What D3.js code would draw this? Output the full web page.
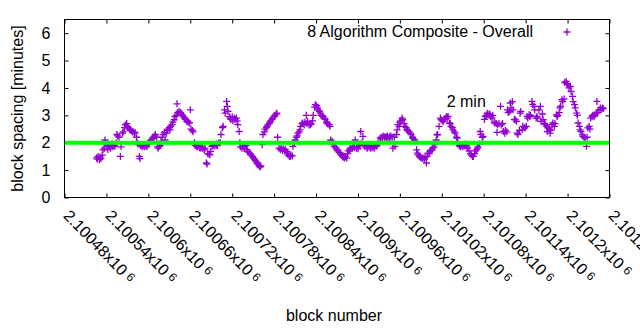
<!DOCTYPE html>
<html><head><meta charset="utf-8">
<script src="https://cdn.jsdelivr.net/npm/d3@7"></script>
<style>body{margin:0;background:#fff} text{font-family:"Liberation Sans",Arial,sans-serif;fill:#000}</style>
</head><body><svg id="c" width="640" height="330"></svg>
<script>
// ---- data (block numbers are blockOffset + blockNum) ----
const blockOffset = 2100000;
const blockNum = [
526,527,528,530,
531,532,534,535,537,538,540,541,542,544,
545,546,548,549,551,552,554,555,556,558,
560,561,563,564,566,567,569,570,571,573,
574,575,577,578,580,581,583,584,585,587,
588,589,591,592,594,595,597,598,599,601,
603,604,606,607,609,610,612,613,614,616,
617,618,620,621,623,624,626,627,628,630,
631,632,634,635,637,638,640,641,642,644,
646,647,649,650,652,653,655,656,657,659,
660,661,663,664,666,667,669,670,671,673,
674,675,677,678,680,681,683,684,685,687,
688,689,691,692,694,695,697,698,699,701,
703,704,706,707,709,710,712,713,714,716,
717,718,720,721,723,724,726,727,728,730,
731,732,734,735,737,738,740,741,742,744,
746,747,749,750,752,753,755,756,757,759,
760,761,763,764,766,767,769,770,771,773,
774,775,777,778,780,781,783,784,785,787,
789,790,792,793,795,796,798,799,800,802,
803,804,806,807,809,810,812,813,814,816,
817,818,820,821,823,824,826,827,828,830,
832,833,835,836,838,839,841,842,843,845,
846,847,849,850,852,853,855,856,857,859,
860,861,863,864,866,867,869,870,871,873,
875,876,878,879,881,882,884,885,886,888,
889,890,892,893,895,896,898,899,900,902,
903,904,906,907,909,910,912,913,914,916,
917,918,920,921,923,924,926,927,928,930,
932,933,935,936,938,939,941,942,943,945,
946,947,949,950,952,953,955,956,957,959,
960,961,963,964,966,967,969,970,971,973,
975,976,978,979,981,982,984,985,986,988,
989,990,992,993,995,996,998,999,1000,1002,
1003,1004,1006,1007,1009,1010,1012,1013,1014,1016,
1018,1019,1021,1022,1024,1025,1027,1028,1029,1031,
1032,1033,1035,1036,1038,1039,1041,1042,1043,1045,
1046,1047,1049,1050,1052,1053,1055,1056,1057,1059,
1061,1062,1064,1065,1067,1068,1070,1071,1072,1074,
1075,1076,1078,1079,1081,1082,1084,1085,1086,1088,
1089,1090,1092,1093,1095,1096,1098,1099,1100,1102,
1104,1105,1107,1108,1110,1111,1113,1114,1115,1117,
1118,1119,1121,1122,1124,1125,1127,1128,1129,1131,
1132,1133,1135,1136,1138,1139,1141,1142,1143,1145,
1146,1147,1149,1150,1152,1153,1155,1156,1157,1159,
1161,1162,1164,1165,1167,1168,1170,1171,1172,1174,
1175,1176,1178,1179,1181,1182,1184,1185,1186,1188,
1189,1190,1192,1193,1195,1196,1198,1199,1200,1202,
1204,1205,1207,1208,1210,1211,1213,1214,1215,1217,
1218,1219,1221,1222,1224,1225,1227,1228,1229,1231,
1232,1233,1235,1236,1238,1239,1241,1242,1243,1245,
1247,1248,1250,1251
];
const spacing = [
1.45,1.40,1.50,1.38,
1.48,1.42,1.55,1.74,1.80,2.10,1.95,1.88,1.75,1.90,
1.85,1.80,1.95,1.85,1.90,1.87,2.00,2.30,2.25,2.20,
1.50,1.85,2.35,2.40,2.55,2.65,2.70,2.60,2.55,2.50,
2.47,2.45,2.40,2.40,2.35,2.38,2.20,2.00,1.95,1.50,
1.42,1.90,1.85,1.90,1.85,1.87,1.90,1.85,1.95,2.00,
2.05,2.10,2.15,2.20,2.25,2.30,2.20,1.85,1.80,1.87,
1.90,2.05,2.20,2.30,2.38,2.10,2.35,2.45,2.50,2.55,
2.47,2.60,2.66,2.75,2.84,2.95,3.00,3.42,3.10,3.15,
3.10,3.05,3.00,2.95,2.90,2.85,2.78,2.80,2.75,2.72,
3.20,2.50,2.45,2.40,2.00,1.90,1.87,1.85,1.90,1.82,
1.85,1.80,1.85,1.78,1.75,1.80,1.26,1.22,1.60,1.58,
1.56,1.68,1.87,1.90,1.88,1.92,1.90,1.95,1.90,2.00,
2.00,2.30,2.55,2.60,3.20,3.08,3.51,3.33,3.15,2.95,
2.90,2.85,2.95,2.80,2.90,2.85,2.90,2.80,2.66,2.41,
2.00,1.85,1.80,1.87,1.80,1.85,1.90,1.75,1.68,1.65,
1.60,1.55,1.50,1.45,1.40,1.35,1.30,1.25,1.19,1.15,
1.11,1.15,1.93,2.30,2.40,2.50,2.55,2.60,2.65,2.70,
2.75,2.80,2.85,2.90,2.95,3.00,3.05,3.08,2.20,1.80,
1.75,1.80,1.72,1.78,1.70,1.75,1.68,1.62,1.55,1.50,
1.50,1.55,1.52,1.87,2.00,2.10,2.20,2.25,2.35,2.40,
2.47,2.60,2.70,2.72,2.65,2.75,3.00,2.70,2.78,2.65,
2.66,2.70,2.80,3.00,3.30,3.39,3.35,3.27,3.20,3.15,
3.08,3.00,2.98,2.96,2.90,2.85,2.75,2.72,2.68,2.66,
2.60,2.10,2.05,1.95,1.87,1.85,1.80,1.74,1.70,1.65,
1.62,1.55,1.50,1.47,1.44,1.50,1.44,1.60,1.70,1.74,
1.80,1.78,1.80,1.85,1.82,2.10,1.80,1.85,1.78,1.90,
1.95,2.41,2.00,2.23,1.90,1.85,1.92,1.80,1.82,1.85,
1.90,1.80,1.82,1.85,1.80,1.85,1.90,1.88,1.95,2.00,
2.15,2.20,2.18,2.25,2.20,2.22,2.20,2.25,2.18,2.20,
2.22,2.25,2.20,1.80,2.20,1.87,2.30,2.47,2.66,2.60,
2.75,2.80,2.90,2.84,2.70,2.60,2.55,2.47,2.45,2.41,
2.35,2.30,2.20,2.15,2.10,2.05,1.74,1.62,1.56,1.50,
1.48,1.45,1.42,1.45,1.40,1.47,1.26,1.50,1.62,1.60,
1.68,1.72,1.74,1.80,1.85,1.93,2.10,2.29,2.30,2.60,
2.90,2.84,2.80,2.78,2.85,2.90,2.96,2.90,2.96,2.72,
2.70,2.60,2.55,2.47,2.40,2.35,2.20,2.17,2.00,1.90,
1.87,1.85,1.90,1.85,1.88,1.95,1.90,1.85,1.80,1.70,
1.60,1.55,1.50,1.50,1.60,1.70,1.75,1.80,1.85,1.95,
2.41,2.30,2.20,2.23,2.85,2.96,3.00,3.08,3.02,3.05,
3.02,2.95,2.90,3.00,2.75,2.72,2.70,2.38,2.66,2.70,
3.33,2.65,2.70,2.41,2.35,2.45,2.40,3.20,3.10,3.14,
3.45,3.27,3.50,3.20,2.85,2.84,2.78,2.35,2.30,2.45,
3.08,3.14,2.47,2.60,2.55,2.54,2.60,2.96,2.90,3.02,
2.95,3.00,3.51,3.40,3.33,3.20,2.90,2.96,2.90,3.20,
3.33,2.78,3.05,2.84,2.70,2.66,2.60,2.41,2.54,2.50,
2.35,2.45,2.66,2.72,2.60,2.70,3.02,2.96,3.00,3.10,
3.27,3.33,3.57,3.50,3.60,4.20,4.24,4.16,4.12,4.00,
4.06,3.87,3.69,3.50,3.39,3.27,3.08,3.00,2.72,2.60,
2.47,2.41,2.29,2.23,2.20,2.17,1.87,2.20,2.54,2.60,
2.50,2.90,2.96,3.00,2.95,3.02,3.08,3.51,3.10,3.20,
3.27,3.20,3.27,3.25
];
const xTickBlocks = [2100480,2100540,2100600,2100660,2100720,2100780,2100840,2100900,2100960,2101020,2101080,2101140,2101200,2101260];
const xTickLabels = ["2.10048","2.10054","2.1006","2.10066","2.10072","2.10078","2.10084","2.1009","2.10096","2.10102","2.10108","2.10114","2.1012","2.10126"];
const xTickExponent = "6";
const yTicks = [0,1,2,3,4,5,6];
const refLevel = 2;
const refText = "2 min";
const refTextBlock = 2101027, refTextValue = 3.3;
const seriesName = "8 Algorithm Composite - Overall";
const xTitle = "block number", yTitle = "block spacing [minutes]";

// ---- drawing ----
const svg = d3.select("#c");
svg.append("rect").attr("width",640).attr("height",330).attr("fill","#fff");
const L=64.5, R=609.5, T=19.5, B=197.5;
const x = d3.scaleLinear().domain([2100480,2101260]).range([L,R]);
const y = d3.scaleLinear().domain([0,6.5]).range([B,T]);
const FS = 16, purple = "#9400d3";

// ticks (inward, mirrored)
function styleAxis(g){ g.select(".domain").remove(); g.selectAll("line").attr("stroke","#000"); g.selectAll("text").style("font-size",FS+"px").attr("font-family",null); }
svg.append("g").attr("transform",`translate(0,${B})`).call(d3.axisBottom(x).tickValues(xTickBlocks).tickSize(-4).tickFormat("")).call(styleAxis);
svg.append("g").attr("transform",`translate(0,${T})`).call(d3.axisTop(x).tickValues(xTickBlocks).tickSize(-4).tickFormat("")).call(styleAxis);
svg.append("g").attr("transform",`translate(${L},0)`).call(d3.axisLeft(y).tickValues(yTicks).tickSize(-4).tickPadding(14).tickFormat(d3.format("d"))).call(styleAxis);
svg.append("g").attr("transform",`translate(${R},0)`).call(d3.axisRight(y).tickValues(yTicks).tickSize(-4).tickFormat("")).call(styleAxis);

// rotated x labels
const xl = svg.append("g").selectAll("text").data(xTickBlocks).join("text")
  .attr("transform",(d)=>`translate(${x(d)-2},${B+19}) rotate(46)`)
  .style("font-size",FS+"px");
xl.append("tspan").text((d,i)=>xTickLabels[i]+"x10");
xl.append("tspan").attr("dx",4).attr("dy",-3).style("font-size","12px").text(xTickExponent);

// points
const cross = "M-3.5,0H3.5M0,-3.5V3.5";
svg.append("g").selectAll("path").data(blockNum.map((b,i)=>[blockOffset+b, spacing[i]])).join("path")
  .attr("d",cross).attr("transform",d=>`translate(${x(d[0])},${y(d[1])})`)
  .attr("stroke",purple).attr("stroke-width",1.3).attr("fill","none");

// 2 min reference line
svg.append("line").attr("x1",L).attr("x2",R).attr("y1",y(refLevel)).attr("y2",y(refLevel))
  .attr("stroke","#00ff00").attr("stroke-width",4);
svg.append("text").attr("x",x(refTextBlock)).attr("y",y(refTextValue)).style("font-size",FS+"px").text(refText);

// legend
svg.append("text").attr("x",533).attr("y",37).attr("text-anchor","end").style("font-size",FS+"px").text(seriesName);
svg.append("path").attr("d",cross).attr("transform","translate(567,32)").attr("stroke",purple).attr("stroke-width",1.3).attr("fill","none");

// frame
svg.append("rect").attr("x",L).attr("y",T).attr("width",R-L).attr("height",B-T).attr("fill","none").attr("stroke","#000");

// titles
svg.append("text").attr("x",(L+R)/2-3).attr("y",321).attr("text-anchor","middle").style("font-size",FS+"px").text(xTitle);
svg.append("text").attr("transform",`translate(23,${(T+B)/2}) rotate(-90)`).attr("text-anchor","middle").style("font-size",FS+"px").text(yTitle);
</script></body></html>
